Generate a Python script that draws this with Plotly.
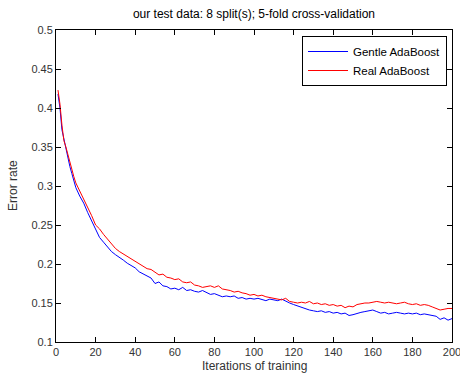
import plotly.graph_objects as go

iterations = [1, 2, 3, 4, 5, 6, 7, 8, 9, 10] + list(range(12, 201, 2))

gentle = [0.418, 0.400, 0.372, 0.360, 0.346, 0.334, 0.325, 0.316, 0.306, 0.298,
          0.287, 0.278, 0.266, 0.255, 0.243, 0.234, 0.228, 0.222, 0.216, 0.212,
          0.209, 0.205, 0.201, 0.198, 0.195, 0.190, 0.187, 0.184, 0.182, 0.175,
          0.177, 0.172, 0.171, 0.168, 0.169, 0.167, 0.170, 0.166, 0.167, 0.165,
          0.164, 0.166, 0.163, 0.161, 0.162, 0.160, 0.158, 0.159, 0.158, 0.159,
          0.156, 0.157, 0.155, 0.156, 0.155, 0.156, 0.154, 0.153, 0.155, 0.154,
          0.153, 0.155, 0.152, 0.150, 0.148, 0.146, 0.144, 0.142, 0.141, 0.140,
          0.139, 0.140, 0.138, 0.139, 0.137, 0.138, 0.136, 0.137, 0.134, 0.135,
          0.137, 0.138, 0.139, 0.140, 0.141, 0.139, 0.137, 0.138, 0.136, 0.137,
          0.138, 0.137, 0.136, 0.137, 0.136, 0.137, 0.135, 0.136, 0.135, 0.134,
          0.133, 0.129, 0.131, 0.128, 0.130]

real = [0.423, 0.405, 0.378, 0.358, 0.350, 0.340, 0.330, 0.322, 0.312, 0.304,
        0.294, 0.284, 0.274, 0.262, 0.250, 0.245, 0.238, 0.232, 0.225, 0.220,
        0.216, 0.213, 0.210, 0.207, 0.204, 0.200, 0.198, 0.194, 0.193, 0.190,
        0.186, 0.187, 0.183, 0.182, 0.180, 0.181, 0.177, 0.176, 0.177, 0.173,
        0.172, 0.170, 0.171, 0.172, 0.170, 0.172, 0.168, 0.167, 0.166, 0.164,
        0.165, 0.163, 0.162, 0.160, 0.161, 0.159, 0.160, 0.158, 0.157, 0.156,
        0.155, 0.154, 0.156, 0.152, 0.151, 0.150, 0.151, 0.150, 0.152, 0.149,
        0.150, 0.148, 0.149, 0.147, 0.148, 0.146, 0.147, 0.144, 0.146, 0.145,
        0.148, 0.149, 0.150, 0.150, 0.151, 0.152, 0.151, 0.150, 0.151, 0.150,
        0.149, 0.150, 0.151, 0.149, 0.148, 0.149, 0.147, 0.148, 0.147, 0.145,
        0.143, 0.141, 0.142, 0.143, 0.143]

x_ticks = [0, 20, 40, 60, 80, 100, 120, 140, 160, 180, 200]
y_ticks = [0.1, 0.15, 0.2, 0.25, 0.3, 0.35, 0.4, 0.45, 0.5]
y_tick_labels = ["0.1", "0.15", "0.2", "0.25", "0.3", "0.35", "0.4", "0.45", "0.5"]

FONT = "Liberation Sans, Arial, sans-serif"
L, R, T, B = 56, 8, 30, 34
W, H = 460, 376
PW, PH = W - L - R, H - T - B

fig = go.Figure()
fig.add_trace(go.Scatter(x=iterations, y=gentle, mode="lines", name="Gentle AdaBoost",
                         line=dict(color="#0000ff", width=1)))
fig.add_trace(go.Scatter(x=iterations, y=real, mode="lines", name="Real AdaBoost",
                         line=dict(color="#ff0000", width=1)))

axis_common = dict(showgrid=False, zeroline=False, showline=True, linecolor="#000000",
                   linewidth=1, mirror="ticks", ticks="inside", ticklen=5,
                   tickcolor="#000000", automargin=False, ticklabeloverflow="allow",
                   tickfont=dict(family=FONT, size=11, color="#333333"))

fig.update_layout(
    width=W, height=H,
    margin=dict(l=L, r=R, t=T, b=B),
    paper_bgcolor="white", plot_bgcolor="white",
    font=dict(family=FONT, size=12, color="#000000"),
    title=dict(text="our test data: 8 split(s); 5-fold cross-validation",
               x=0.5, xanchor="center", xref="paper", y=1 - 14 / H, yanchor="middle",
               font=dict(family=FONT, size=12, color="#000000")),
    xaxis=dict(range=[0, 200], tickvals=x_ticks, **axis_common),
    yaxis=dict(range=[0.1, 0.5], tickvals=y_ticks, ticktext=y_tick_labels, **axis_common),
    legend=dict(x=(447 - L) / PW, y=1 - 6 / PH, xanchor="right", yanchor="top",
                bgcolor="white", bordercolor="#000000", borderwidth=1,
                font=dict(family=FONT, size=11.5), tracegroupgap=0,
                itemwidth=40),
    showlegend=True,
    annotations=[
        dict(text="Iterations of training", xref="paper", yref="paper",
             x=0.5, y=-(366 - (T + PH)) / PH, xanchor="center", yanchor="middle",
             showarrow=False, font=dict(family=FONT, size=12, color="#333333")),
        dict(text="Error rate", xref="paper", yref="paper",
             x=-(L - 13) / PW, y=0.5, xanchor="center", yanchor="middle", textangle=-90,
             showarrow=False, font=dict(family=FONT, size=12, color="#333333")),
    ],
)

fig.write_html("out.html", config={"displayModeBar": False},
               post_script="document.body.style.margin='0';")
